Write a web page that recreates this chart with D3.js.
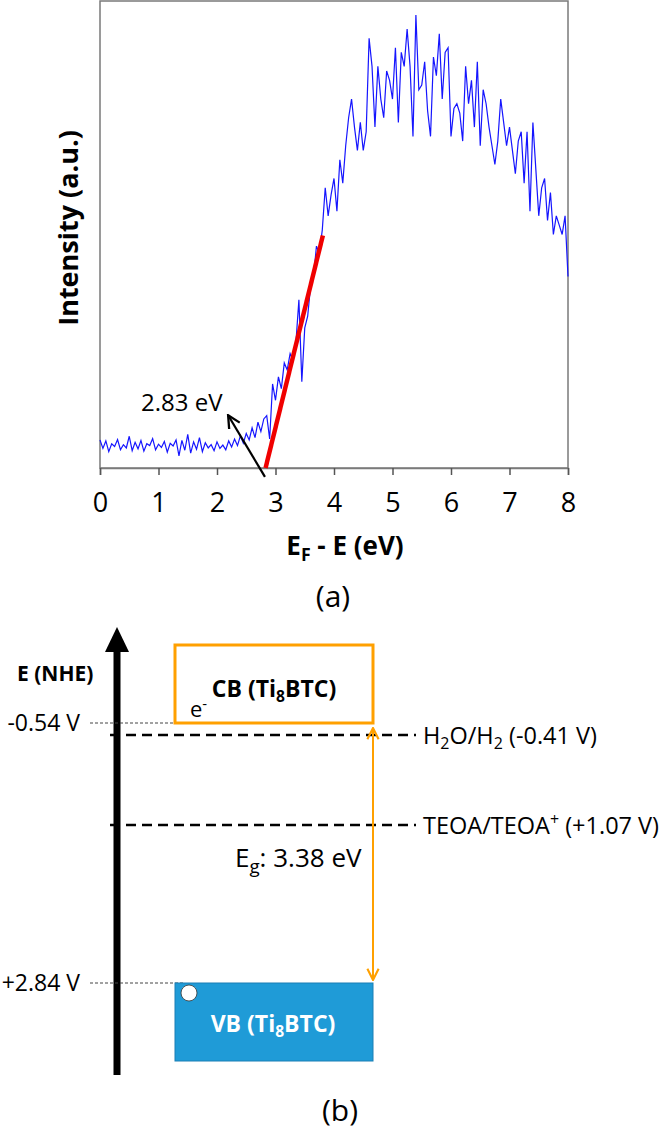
<!DOCTYPE html>
<html>
<head>
<meta charset="utf-8">
<script src="https://cdn.jsdelivr.net/npm/d3@7"></script>
<style>
  body { margin: 0; background: #fff; }
  svg { display: block; }
  text { font-family: "Open Sans", sans-serif; fill: #000; }
</style>
</head>
<body>
<div id="chart"></div>
<script>
// (a) UPS spectrum, one value every 0.05 eV from 0 to 8 eV (arbitrary units)
const eStep = 0.05;
const intensity = [
	6.0, 4.2, 5.8, 3.5, 5.2, 4.6, 6.1, 3.9, 5.0, 4.3,
	6.8, 3.7, 5.5, 4.1, 5.9, 3.6, 5.2, 4.8, 6.3, 3.9,
	5.1, 4.4, 5.7, 3.4, 5.3, 4.7, 6.0, 2.6, 5.9, 3.8,
	7.2, 3.2, 5.6, 4.0, 6.5, 3.5, 5.4, 4.3, 5.0, 3.7,
	5.6, 4.2, 4.9, 3.9, 5.8, 4.5, 6.2, 4.8, 6.9, 5.3,
	7.4, 6.0, 8.6, 6.5, 9.8, 7.8, 10.5, 11.2, 6.2, 18.0,
	14.5, 19.5, 17.0, 22.5, 21.0, 24.5, 23.0, 27.0, 36.0, 18.5,
	30.0, 32.5, 39.0, 41.0, 47.5, 46.0, 51.0, 60.0, 54.0, 58.5,
	62.0, 55.0, 66.0, 61.0, 69.0, 75.0, 79.0, 73.0, 68.0, 74.0,
	68.0, 72.0, 92.0, 86.0, 73.0, 86.0, 79.0, 75.0, 85.0, 83.0,
	79.0, 90.0, 74.0, 89.0, 86.0, 94.0, 86.0, 71.0, 97.0, 81.0,
	82.0, 87.0, 76.5, 71.0, 88.0, 84.0, 93.0, 79.0, 89.0, 90.0,
	71.0, 77.0, 78.0, 76.0, 70.0, 86.0, 78.0, 83.0, 73.0, 87.0,
	69.0, 81.0, 78.0, 73.0, 69.0, 65.0, 70.0, 79.0, 74.0, 69.0,
	73.0, 68.0, 63.0, 70.0, 72.0, 61.0, 72.0, 55.0, 74.0, 64.0,
	54.0, 60.0, 62.0, 53.0, 59.0, 50.0, 54.0, 52.0, 50.0, 54.0,
	41.0
];
const xTicks = [0, 1, 2, 3, 4, 5, 6, 7, 8];
const fitLine = [[2.83, 0], [3.81, 49.8]];        // linear onset fit
const onsetArrow = [[2.82, -1.9], [2.19, 11.3]];  // tail, tip
const onsetLabel = "2.83 eV";

// (b) band diagram, potentials in V vs NHE
const cbEdge = -0.54;
const vbEdge = 2.84;
const redoxLevels = [-0.41, 1.07];
const redoxLabels = [
	[["H", ""], ["2", "sub"], ["O/H", ""], ["2", "sub"], [" (-0.41 V)", ""]],
	[["TEOA/TEOA", ""], ["+", "sup"], [" (+1.07 V)", ""]]
];
const bandGap = [["E", ""], ["g", "sub"], [": 3.38 eV", ""]];

const W = 661, H = 1131;
const svg = d3.select("#chart").append("svg")
	.attr("width", W)
	.attr("height", H);

// write text made of normal / sub / sup pieces
function rich(t, parts, fs, k) {
	k = k || 0.68;
	let cur = 0;
	parts.forEach(function (p) {
		const target = p[1] == "sub" ? fs * 0.22 : p[1] == "sup" ? -fs * 0.38 : 0;
		const sp = t.append("tspan").text(p[0]).attr("dy", target - cur);
		if (p[1]) sp.attr("font-size", fs * k);
		cur = target;
	});
	return t;
}

// ---------- (a) ----------
const x = d3.scaleLinear().domain([0, 8]).range([100, 568]);
const y = d3.scaleLinear().domain([0, 100]).range([468, 1]);

svg.append("defs").selectAll("marker")
	.data([["headBlack", "#000", 7], ["headOrange", "#ffa000", 7]])
	.join("marker")
	.attr("id", function (d) { return d[0] })
	.attr("viewBox", "0 0 10 10")
	.attr("refX", 9).attr("refY", 5)
	.attr("markerWidth", function (d) { return d[2] })
	.attr("markerHeight", function (d) { return d[2] })
	.attr("markerUnits", "strokeWidth")
	.attr("orient", "auto-start-reverse")
	.append("path")
	.attr("d", "M1,1 L9,5 L1,9")
	.attr("fill", "none")
	.attr("stroke", function (d) { return d[1] })
	.attr("stroke-width", 1.5);

svg.append("rect")
	.attr("x", x(0)).attr("y", y(100))
	.attr("width", x(8) - x(0)).attr("height", y(0) - y(100))
	.attr("fill", "none")
	.attr("stroke", "#7a7a7a")
	.attr("stroke-width", 1.5);

const xAxis = svg.append("g")
	.attr("transform", `translate(0,${y(0)})`)
	.call(d3.axisBottom(x).tickValues(xTicks).tickSize(7).tickPadding(18).tickFormat(d3.format("d")));
xAxis.select(".domain").attr("stroke", "#7a7a7a").attr("stroke-width", 1.5);
xAxis.selectAll(".tick line").attr("stroke", "#555").attr("stroke-width", 1.5);
xAxis.selectAll(".tick text")
	.attr("font-size", 27)
	.attr("font-family", "Open Sans, sans-serif")
	.attr("fill", "#000");

const line = d3.line()
	.x(function (d, i) { return x(i * eStep) })
	.y(function (d) { return y(d) });

svg.append("path")
	.datum(intensity)
	.attr("d", line)
	.attr("fill", "none")
	.attr("stroke", "#1515ff")
	.attr("stroke-width", 1.2);

svg.append("line")
	.attr("x1", x(fitLine[0][0])).attr("y1", y(fitLine[0][1]))
	.attr("x2", x(fitLine[1][0])).attr("y2", y(fitLine[1][1]))
	.attr("stroke", "#f00000")
	.attr("stroke-width", 4.5);

svg.append("line")
	.attr("x1", x(onsetArrow[0][0])).attr("y1", y(onsetArrow[0][1]))
	.attr("x2", x(onsetArrow[1][0])).attr("y2", y(onsetArrow[1][1]))
	.attr("stroke", "#000")
	.attr("stroke-width", 2.2)
	.attr("marker-end", "url(#headBlack)");

svg.append("text")
	.attr("x", 141).attr("y", 411)
	.attr("font-size", 24)
	.text(onsetLabel);

rich(svg.append("text")
	.attr("x", 345).attr("y", 555)
	.attr("text-anchor", "middle")
	.attr("font-size", 26)
	.attr("font-weight", "bold"), [["E", ""], ["F", "sub"], [" - E (eV)", ""]], 26);

svg.append("text")
	.attr("transform", "translate(67,228) rotate(-90)")
	.attr("text-anchor", "middle")
	.attr("dominant-baseline", "central")
	.attr("font-size", 27)
	.attr("font-weight", "bold")
	.text("Intensity (a.u.)");

svg.append("text")
	.attr("x", 333).attr("y", 607)
	.attr("text-anchor", "middle")
	.attr("font-size", 30)
	.text("(a)");

// ---------- (b) ----------
const yE = d3.scaleLinear()
	.domain([cbEdge, redoxLevels[0], redoxLevels[1], vbEdge])
	.range([723, 735, 825, 983]);
const boxL = 175, boxR = 373;

// energy axis arrow
svg.append("line")
	.attr("x1", 117).attr("x2", 117)
	.attr("y1", 1075).attr("y2", 648)
	.attr("stroke", "#000")
	.attr("stroke-width", 7);
svg.append("path")
	.attr("d", "M105,652 L129,652 L117,627 Z")
	.attr("fill", "#000");

svg.append("text")
	.attr("x", 17).attr("y", 681)
	.attr("font-size", 21)
	.attr("font-weight", "bold")
	.text("E (NHE)");

// band edge leader lines and labels
svg.selectAll(".lead")
	.data([cbEdge, vbEdge])
	.join("line")
	.attr("x1", 90).attr("x2", boxL + 10)
	.attr("y1", function (d) { return yE(d) })
	.attr("y2", function (d) { return yE(d) })
	.attr("stroke", "#444")
	.attr("stroke-width", 1)
	.attr("stroke-dasharray", "3,2");

svg.selectAll(".edgeLabel")
	.data([cbEdge, vbEdge])
	.join("text")
	.attr("x", 80)
	.attr("y", function (d) { return yE(d) + 8 })
	.attr("text-anchor", "end")
	.attr("font-size", 23)
	.text(function (d) { return (d > 0 ? "+" : "") + d.toFixed(2) + " V" });

// CB box
svg.append("rect")
	.attr("x", boxL).attr("y", 645)
	.attr("width", boxR - boxL).attr("height", yE(cbEdge) - 645)
	.attr("fill", "none")
	.attr("stroke", "#ffa000")
	.attr("stroke-width", 3);

rich(svg.append("text")
	.attr("x", 274).attr("y", 697)
	.attr("text-anchor", "middle")
	.attr("font-size", 23)
	.attr("font-weight", "bold"), [["CB (Ti", ""], ["8", "sub"], ["BTC)", ""]], 23);

rich(svg.append("text")
	.attr("x", 190).attr("y", 717)
	.attr("font-size", 22), [["e", ""], ["-", "sup"]], 22);

// VB box
svg.append("rect")
	.attr("x", boxL).attr("y", yE(vbEdge))
	.attr("width", boxR - boxL).attr("height", 1061 - yE(vbEdge))
	.attr("fill", "#1f9bd7")
	.attr("stroke", "#1a7fb5")
	.attr("stroke-width", 1);

svg.append("circle")
	.attr("cx", 189).attr("cy", yE(vbEdge) + 10)
	.attr("r", 8)
	.attr("fill", "#fff")
	.attr("stroke", "#333")
	.attr("stroke-width", 0.8);

rich(svg.append("text")
	.attr("x", 273).attr("y", 1032)
	.attr("text-anchor", "middle")
	.attr("font-size", 23)
	.attr("font-weight", "bold")
	.style("fill", "#fff"), [["VB (Ti", ""], ["8", "sub"], ["BTC)", ""]], 23);

// redox levels
svg.selectAll(".redox")
	.data(redoxLevels)
	.join("line")
	.attr("x1", 110).attr("x2", 416)
	.attr("y1", function (d) { return yE(d) })
	.attr("y2", function (d) { return yE(d) })
	.attr("stroke", "#000")
	.attr("stroke-width", 2.5)
	.attr("stroke-dasharray", "10,6");

redoxLevels.forEach(function (d, i) {
	rich(svg.append("text")
		.attr("x", 423).attr("y", yE(d) + 9)
		.attr("font-size", 23.5), redoxLabels[i], 23.5);
});

// band gap double arrow
svg.append("line")
	.attr("x1", boxR).attr("x2", boxR)
	.attr("y1", yE(cbEdge) + 5).attr("y2", yE(vbEdge) - 3)
	.attr("stroke", "#ffa000")
	.attr("stroke-width", 2)
	.attr("marker-start", "url(#headOrange)")
	.attr("marker-end", "url(#headOrange)");

rich(svg.append("text")
	.attr("x", 235).attr("y", 867)
	.attr("font-size", 26), bandGap, 26, 0.72);

svg.append("text")
	.attr("x", 340).attr("y", 1121)
	.attr("text-anchor", "middle")
	.attr("font-size", 30)
	.text("(b)");
</script>
</body>
</html>
